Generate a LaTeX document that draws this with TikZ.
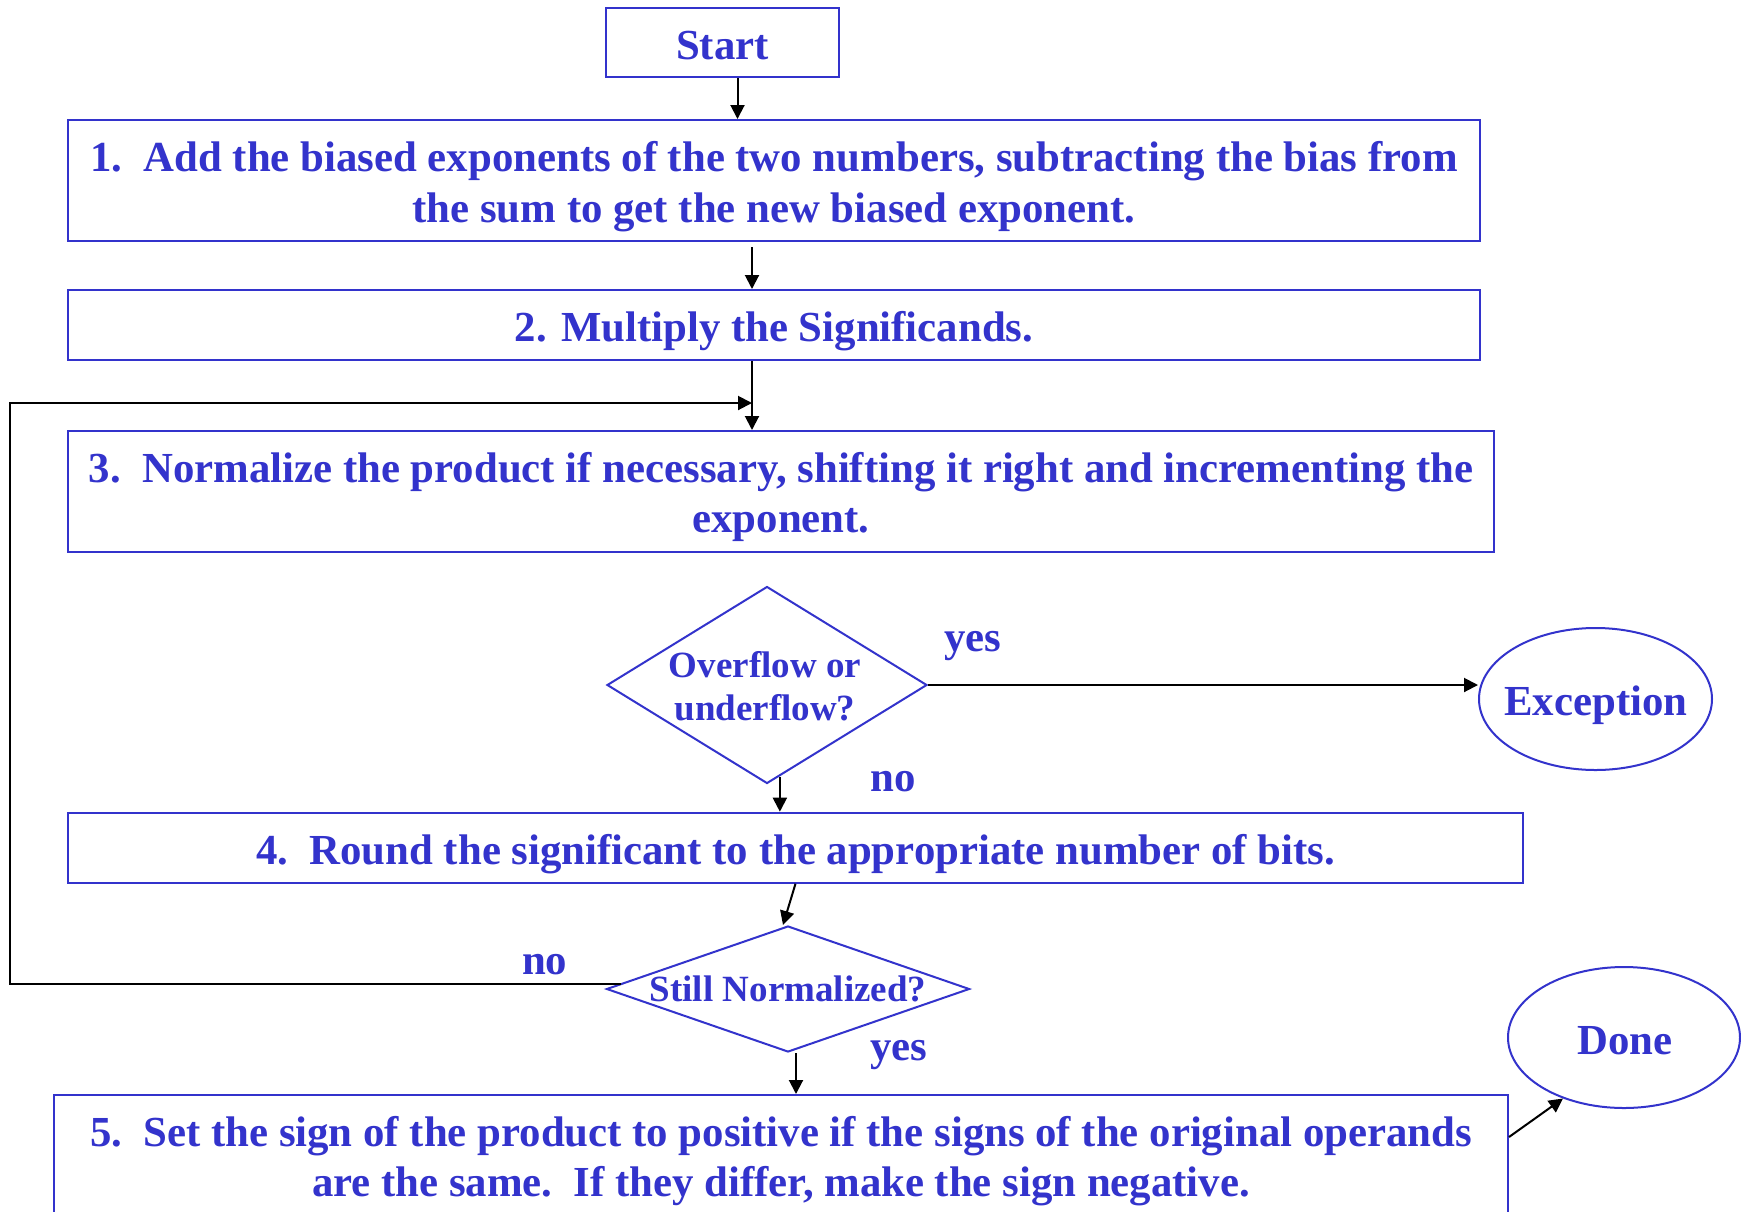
\documentclass[tikz,border=0pt]{standalone}
\usepackage{fontspec}
\setmainfont{Liberation Serif}
\usetikzlibrary{shapes.geometric,arrows.meta,calc}
\definecolor{fcblue}{RGB}{51,51,204}
\begin{document}
\begin{tikzpicture}[x=1pt,y=-1pt,
  box/.style={draw=fcblue, line width=2pt, text=fcblue, align=center, inner sep=0pt,
    font=\fontsize{42.8}{50.3}\selectfont\bfseries, text height=33.6pt, text depth=0pt},
  dia/.style={diamond, draw=fcblue, line width=2pt, inner sep=0pt},
  ell/.style={ellipse, draw=fcblue, line width=2pt, inner sep=0pt},
  dtext/.style={text=fcblue, align=center, inner sep=0pt, font=\fontsize{37}{43.3}\selectfont\bfseries},
  ltext/.style={text=fcblue, inner sep=0pt, anchor=base, font=\fontsize{42.8}{50}\selectfont\bfseries},
  arr/.style={draw=black, line width=2pt, -{Triangle[length=14pt,width=14pt]}}
]
\useasboundingbox[fill=white] (0,0) rectangle (1741,1211);
\node[box, minimum width=233pt, minimum height=69pt] (start) at (722.5,42.5) {Start};
\node[box, minimum width=1412pt, minimum height=121pt, text height=83pt] (b1) at (774,180.5) {1.\ \ Add the biased exponents of the two numbers, subtracting the bias from\\the sum to get the new biased exponent.};
\node[box, minimum width=1412pt, minimum height=70pt] (b2) at (774,325) {2. Multiply the Significands.};
\node[box, minimum width=1426pt, minimum height=121pt, text height=82.2pt] (b3) at (781,491.5) {3.\ \ Normalize the product if necessary, shifting it right and incrementing the\\exponent.};
\node[dia, minimum width=320pt, minimum height=197pt] (d1) at (767,685) {};
\node[dtext] (d1t) at (765,686) {Overflow or\\underflow?};
\node[ell, minimum width=233pt, minimum height=142pt] (exc) at (1595.5,699) {};
\node[ltext] (exct) at (1595.8,715) {Exception};
\node[box, minimum width=1455pt, minimum height=70pt] (b4) at (795.5,847.7) {4.\ \ Round the significant to the appropriate number of bits.};
\node[dia, minimum width=363pt, minimum height=126pt] (d2) at (788,989) {};
\node[dtext] (d2t) at (d2) {Still Normalized?};
\node[box, minimum width=1454pt, minimum height=128pt, text height=74.6pt] (b5) at (781,1159) {5.\ \ Set the sign of the product to positive if the signs of the original operands\\are the same.\ \ If they differ, make the sign negative.};
\node[ell, minimum width=232pt, minimum height=141pt] (done) at (1624,1037.5) {};
\node[ltext] (donet) at (1624.8,1054) {Done};
\node[ltext] (yes1) at (972.7,651.7) {yes};
\node[ltext] (no1) at (893.3,791.7) {no};
\node[ltext] (no2) at (544.6,974) {no};
\node[ltext] (yes2) at (899,1060) {yes};
\coordinate (a1) at ([xshift=15pt]start.south);
\draw[arr] (a1) -- (a1 |- b1.north);
\coordinate (a2) at ([xshift=-22pt,yshift=-5pt]b1.south);
\draw[arr] (a2) -- (a2 |- b2.north);
\coordinate (a3) at ([xshift=-22pt]b2.south);
\draw[arr] (a3) -- (a3 |- b3.north);
\draw[arr] (d1.east) -- (d1.east -| exc.west);
\coordinate (a4) at ($(d1.south)!0.08!(d1.east)$);
\draw[arr] (a4) -- (a4 |- b4.north);
\draw[arr] (b4.south) -- ([xshift=-5pt]d2.north);
\coordinate (a5) at ([xshift=8pt]d2.south);
\draw[arr] (a5) -- (a5 |- b5.north);
\draw[arr] ([yshift=22pt]b5.east) -- (done.225);
\coordinate (l0) at ($(d2.west)!0.085!(d2.north)$);
\coordinate (ll) at (10,403);
\draw[arr] (l0) -- (l0 -| ll) -- (ll) -- (ll -| a3);
\end{tikzpicture}
\end{document}
